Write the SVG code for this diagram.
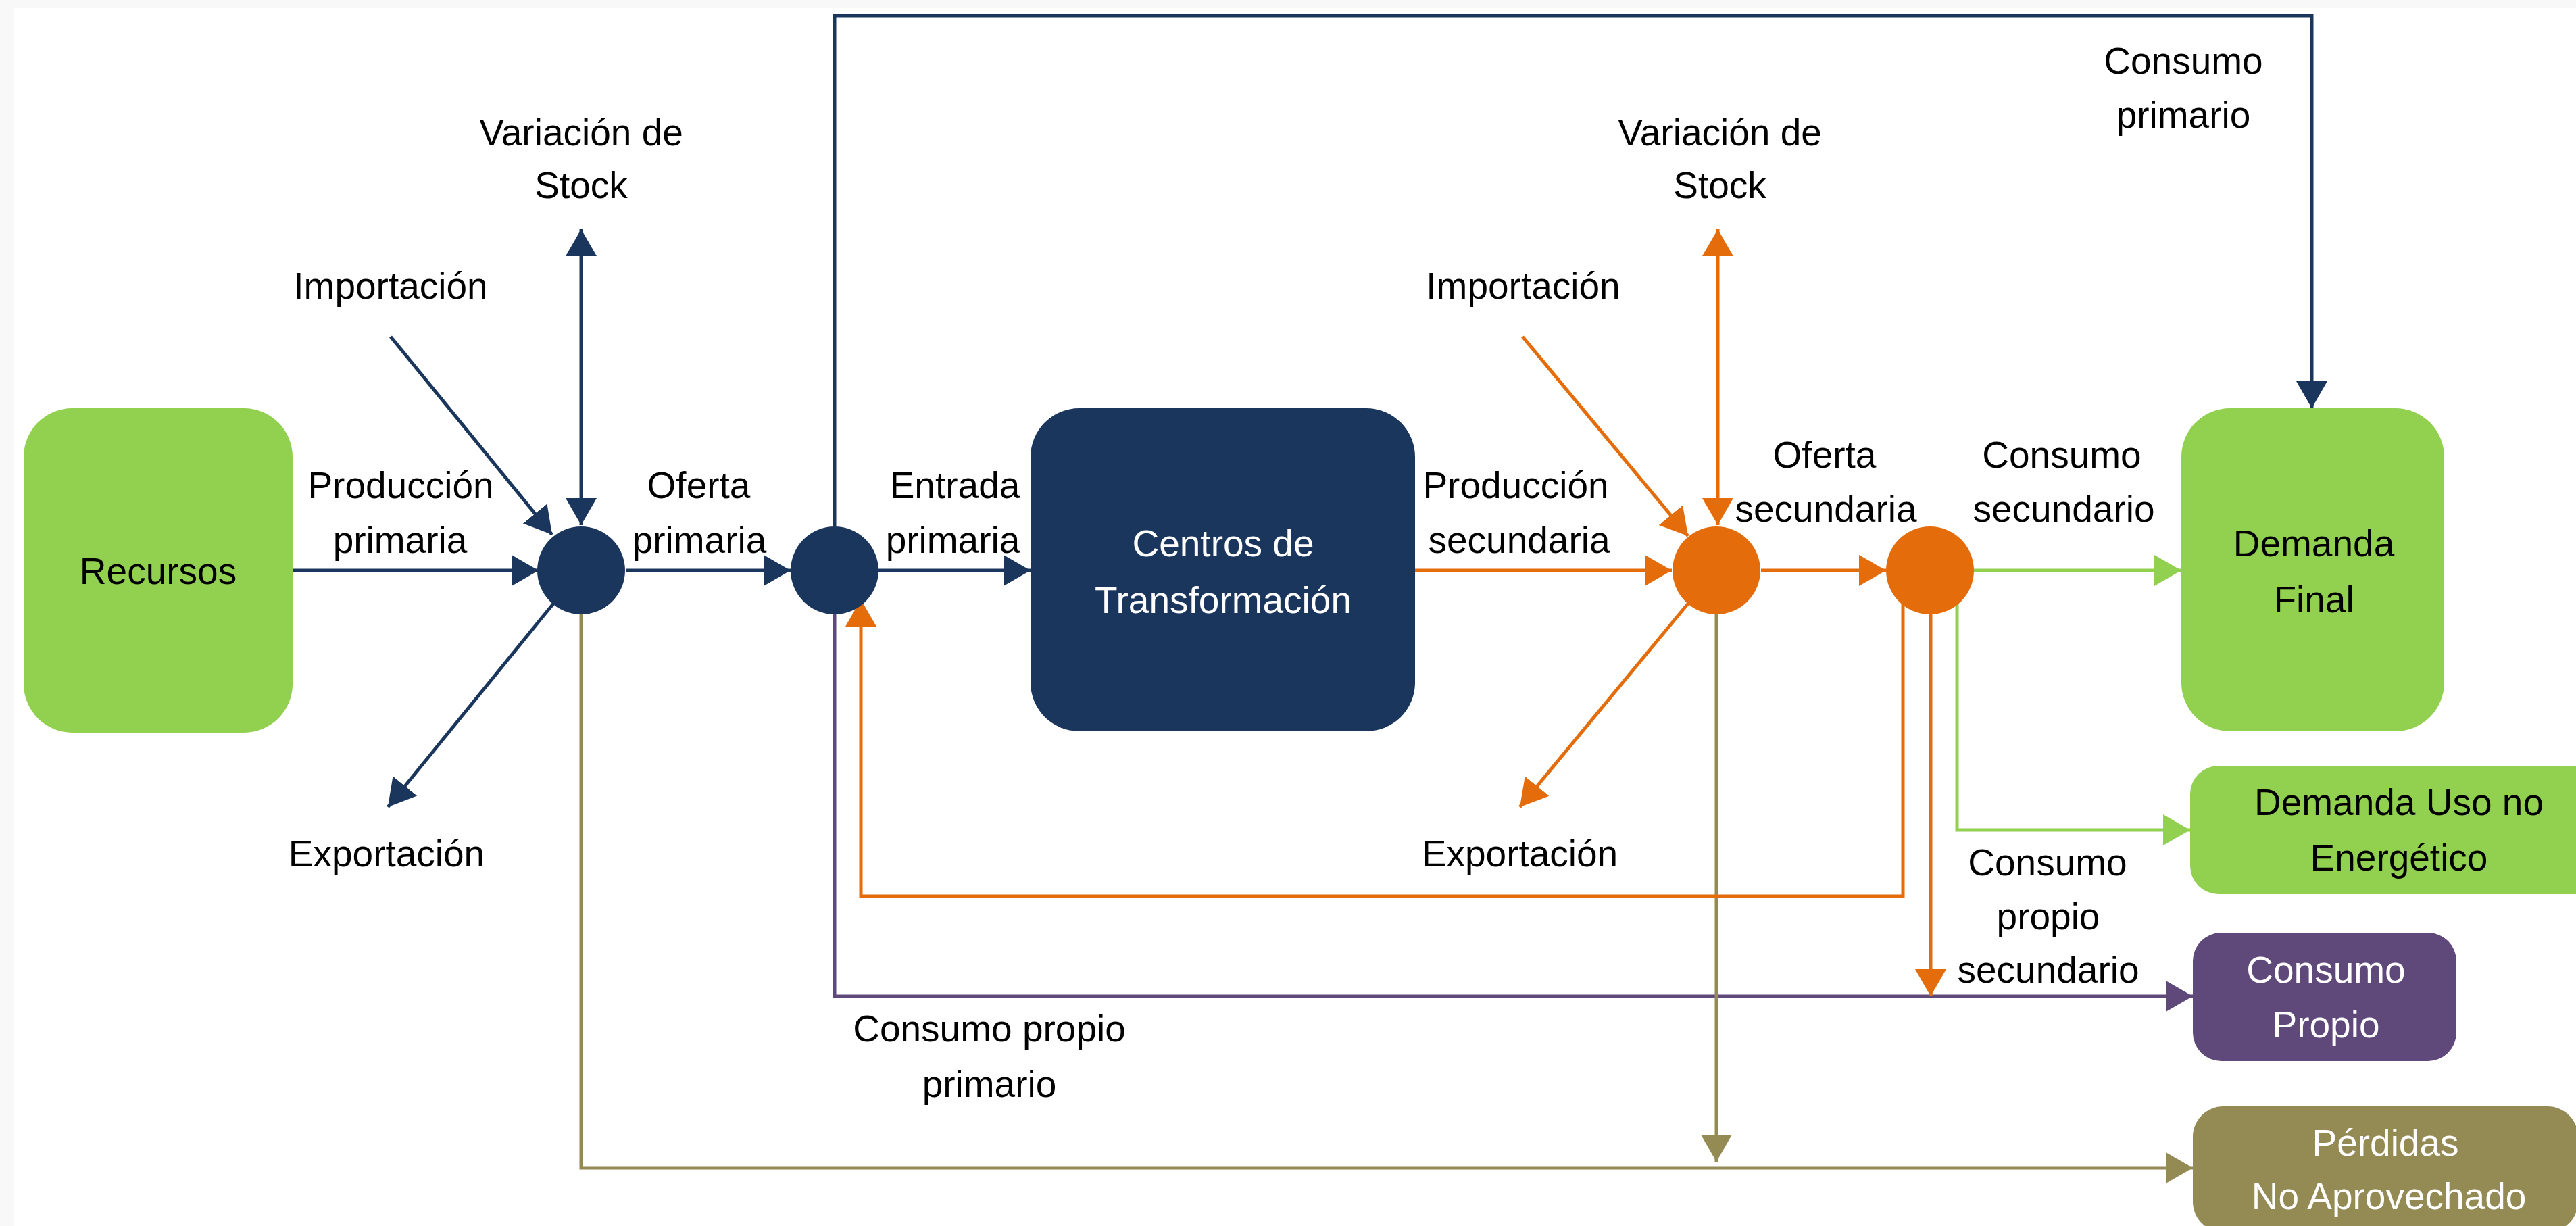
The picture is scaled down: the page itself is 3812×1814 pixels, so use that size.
<svg xmlns="http://www.w3.org/2000/svg" width="3812" height="1814" viewBox="0 0 3812 1814">
<style>
  text { font-family: "Liberation Sans", Arial, sans-serif; font-size: 55px; text-anchor: middle; fill: #000; }
  .w { fill: #fff; }
  .ln { fill: none; stroke-width: 5; stroke-linejoin: miter; }
  .navy { stroke: #1B365D; }
  .orange { stroke: #E46C0A; }
  .green { stroke: #92D050; }
  .purple { stroke: #5F497A; }
  .olive { stroke: #948A54; }
</style>
<defs>
  <marker id="aNavy" markerUnits="userSpaceOnUse" viewBox="0 0 42 48" markerWidth="42" markerHeight="48" refX="40" refY="24" orient="auto-start-reverse"><path d="M0,1 L40,24 L0,47 z" fill="#1B365D"/></marker>
  <marker id="aOrange" markerUnits="userSpaceOnUse" viewBox="0 0 42 48" markerWidth="42" markerHeight="48" refX="40" refY="24" orient="auto-start-reverse"><path d="M0,1 L40,24 L0,47 z" fill="#E46C0A"/></marker>
  <marker id="aGreen" markerUnits="userSpaceOnUse" viewBox="0 0 42 48" markerWidth="42" markerHeight="48" refX="40" refY="24" orient="auto-start-reverse"><path d="M0,1 L40,24 L0,47 z" fill="#92D050"/></marker>
  <marker id="aPurple" markerUnits="userSpaceOnUse" viewBox="0 0 42 48" markerWidth="42" markerHeight="48" refX="40" refY="24" orient="auto-start-reverse"><path d="M0,1 L40,24 L0,47 z" fill="#5F497A"/></marker>
  <marker id="aOlive" markerUnits="userSpaceOnUse" viewBox="0 0 42 48" markerWidth="42" markerHeight="48" refX="40" refY="24" orient="auto-start-reverse"><path d="M0,1 L40,24 L0,47 z" fill="#948A54"/></marker>
</defs>
<rect x="0" y="0" width="3812" height="1814" fill="#F8F8F8"/>
<rect x="20" y="12" width="3792" height="1802" fill="#FFFFFF"/>

<g id="connectors">
  <!-- primary (navy) -->
  <path class="ln navy" d="M433,844 L797,844" marker-end="url(#aNavy)"/>
  <path class="ln navy" d="M927,844 L1170,844" marker-end="url(#aNavy)"/>
  <path class="ln navy" d="M1300,844 L1525,844" marker-end="url(#aNavy)"/>
  <path class="ln navy" d="M860,339 L860,777" marker-start="url(#aNavy)" marker-end="url(#aNavy)"/>
  <path class="ln navy" d="M578,498 L817,791" marker-end="url(#aNavy)"/>
  <path class="ln navy" d="M819,893 L574,1194" marker-end="url(#aNavy)"/>
  <path class="ln navy" d="M1235,778 L1235,23 L3421,23 L3421,604" marker-end="url(#aNavy)"/>
  <!-- purple -->
  <path class="ln purple" d="M1235,909 L1235,1474 L3245,1474" marker-end="url(#aPurple)"/>
  <!-- olive -->
  <path class="ln olive" d="M860,909 L860,1728 L3245,1728" marker-end="url(#aOlive)"/>
  <path class="ln olive" d="M2540,909 L2540,1719" marker-end="url(#aOlive)"/>
  <!-- orange -->
  <path class="ln orange" d="M2094,844 L2474,844" marker-end="url(#aOrange)"/>
  <path class="ln orange" d="M2606,844 L2791,844" marker-end="url(#aOrange)"/>
  <path class="ln orange" d="M2542,339 L2542,777" marker-start="url(#aOrange)" marker-end="url(#aOrange)"/>
  <path class="ln orange" d="M2253,498 L2498,793" marker-end="url(#aOrange)"/>
  <path class="ln orange" d="M2498,893 L2249,1194" marker-end="url(#aOrange)"/>
  <path class="ln orange" d="M2816,894 L2816,1326 L1274,1326 L1274,887" marker-end="url(#aOrange)"/>
  <path class="ln orange" d="M2857,909 L2857,1474" marker-end="url(#aOrange)"/>
  <!-- green -->
  <path class="ln green" d="M2921,844 L3228,844" marker-end="url(#aGreen)"/>
  <path class="ln green" d="M2896,894 L2896,1228 L3241,1228" marker-end="url(#aGreen)"/>
</g>

<g id="connector-labels">
  <text x="860" y="215">Variación de</text>
  <text x="860" y="293">Stock</text>
  <text x="578" y="442">Importación</text>
  <text x="593" y="737">Producción</text>
  <text x="592" y="818">primaria</text>
  <text x="1034" y="737">Oferta</text>
  <text x="1035" y="818">primaria</text>
  <text x="572" y="1282">Exportación</text>
  <text x="1413" y="737">Entrada</text>
  <text x="1410" y="818">primaria</text>
  <text x="2254" y="442">Importación</text>
  <text x="2243" y="737">Producción</text>
  <text x="2248" y="818">secundaria</text>
  <text x="2545" y="215">Variación de</text>
  <text x="2545" y="293">Stock</text>
  <text x="2700" y="692">Oferta</text>
  <text x="2702" y="772">secundaria</text>
  <text x="3051" y="692">Consumo</text>
  <text x="3054" y="772">secundario</text>
  <text x="3231" y="109">Consumo</text>
  <text x="3231" y="189">primario</text>
  <text x="2249" y="1282">Exportación</text>
  <text x="1464" y="1541">Consumo propio</text>
  <text x="1464" y="1623">primario</text>
  <text x="3030" y="1295">Consumo</text>
  <text x="3031" y="1375">propio</text>
  <text x="3031" y="1454">secundario</text>
</g>

<g id="node-recursos">
  <rect x="35" y="604" width="398" height="480" rx="72" fill="#92D050"/>
  <text x="234" y="864">Recursos</text>
</g>
<g id="node-oferta-primaria">
  <circle cx="860" cy="844" r="65" fill="#1B365D"/>
</g>
<g id="node-entrada-primaria">
  <circle cx="1235" cy="844" r="65" fill="#1B365D"/>
</g>
<g id="node-centros">
  <rect x="1525" y="604" width="569" height="478" rx="72" fill="#1B365D"/>
  <text class="w" x="1810" y="823">Centros de</text>
  <text class="w" x="1810" y="907">Transformación</text>
</g>
<g id="node-oferta-secundaria">
  <circle cx="2540" cy="844" r="65" fill="#E46C0A"/>
</g>
<g id="node-consumo-secundario">
  <circle cx="2856" cy="844" r="65" fill="#E46C0A"/>
</g>
<g id="node-demanda-final">
  <rect x="3228" y="604" width="389" height="478" rx="72" fill="#92D050"/>
  <text x="3424" y="823">Demanda</text>
  <text x="3424" y="906">Final</text>
</g>
<g id="node-demanda-uso-no-energetico">
  <rect x="3241" y="1133" width="640" height="190" rx="42" fill="#92D050"/>
  <text x="3550" y="1206">Demanda Uso no</text>
  <text x="3550" y="1288">Energético</text>
</g>
<g id="node-consumo-propio">
  <rect x="3245" y="1380" width="390" height="190" rx="42" fill="#5F497A"/>
  <text class="w" x="3442" y="1454">Consumo</text>
  <text class="w" x="3442" y="1535">Propio</text>
</g>
<g id="node-perdidas">
  <rect x="3245" y="1637" width="570" height="186" rx="45" fill="#948A54"/>
  <text class="w" x="3530" y="1710">Pérdidas</text>
  <text class="w" x="3535" y="1789">No Aprovechado</text>
</g>
</svg>
